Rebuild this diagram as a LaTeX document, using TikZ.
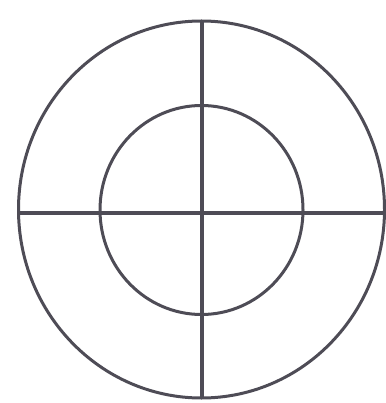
\documentclass[tikz,border=0pt]{standalone}
\definecolor{inkgray}{RGB}{78,76,86}
\begin{document}
\begin{tikzpicture}[x=1pt,y=-1pt,
  ring/.style={draw=inkgray,line width=3pt},
  cross/.style={draw=inkgray,line width=3.2pt}]
\useasboundingbox (0,0) rectangle (385,403);
\coordinate (c) at (201.5,209.5);
\draw[ring] (c) ellipse [x radius=183, y radius=188.5];
\draw[ring] (201.5,210) ellipse [x radius=101.5, y radius=104.5];
\coordinate (l) at (18.5,213);
\coordinate (r) at (385,213);
\coordinate (t) at (202,21);
\coordinate (b) at (202,398);
\draw[cross] (l) -- (r);
\draw[cross] (t) -- (b);
\end{tikzpicture}
\end{document}
